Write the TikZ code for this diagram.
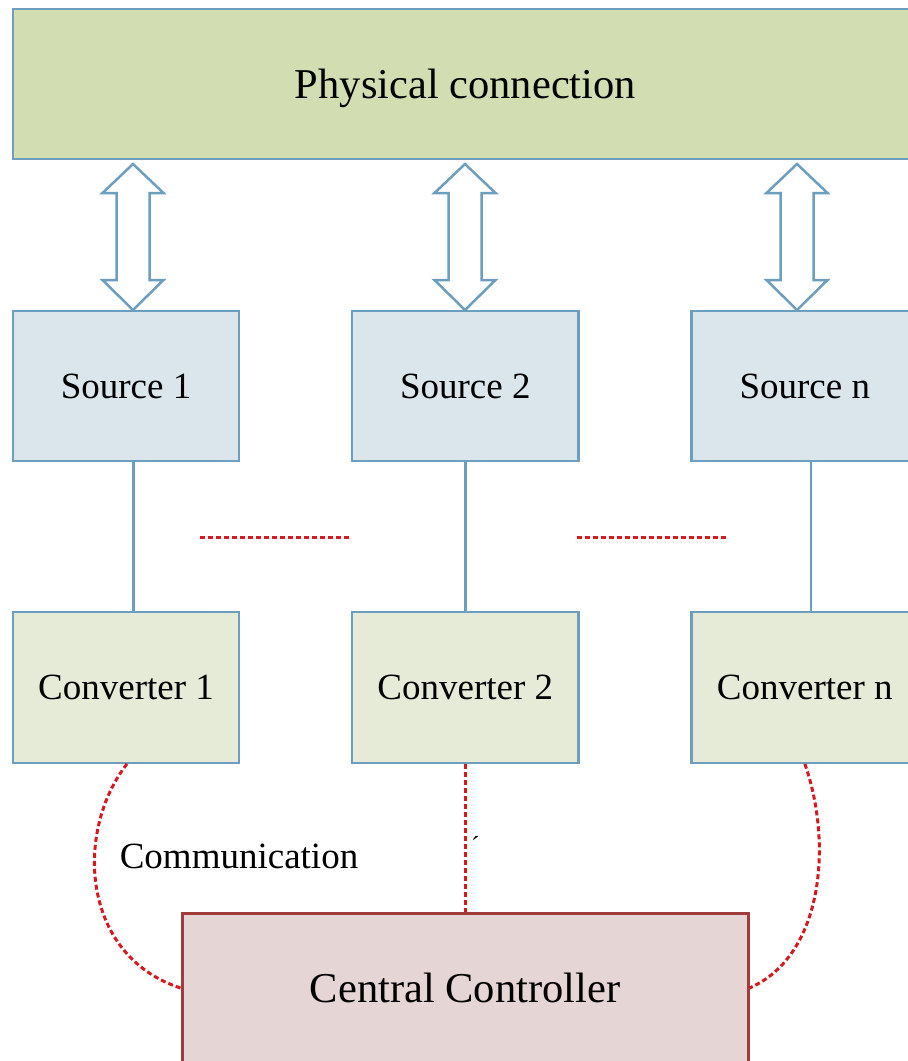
\documentclass[tikz,border=0pt]{standalone}
\usepackage{fontspec}
\setmainfont{Liberation Serif}
\definecolor{physfill}{HTML}{D2DEB2}
\definecolor{edgeblue}{HTML}{6C9EC0}
\definecolor{srcfill}{HTML}{DBE6EC}
\definecolor{convfill}{HTML}{E6EBD7}
\definecolor{ctlfill}{HTML}{E5D5D4}
\definecolor{ctledge}{HTML}{A03C3C}
\definecolor{commred}{HTML}{D7191F}
\tikzset{
  x=1pt, y=-1pt,
  bigtext/.style={font=\fontsize{42.5}{50}\selectfont, text height=28pt, text depth=0pt},
  midtext/.style={font=\fontsize{37}{44}\selectfont, text height=24.5pt, text depth=0pt},
  box/.style={draw=edgeblue, line width=2.3pt, inner sep=0pt},
  physbox/.style={box, bigtext, fill=physfill, minimum width=905pt, minimum height=150pt},
  srcbox/.style={box, midtext, fill=srcfill, minimum width=226.5pt, minimum height=150.5pt},
  convbox/.style={box, midtext, fill=convfill, minimum width=226.5pt, minimum height=150.5pt},
  ctlbox/.style={draw=ctledge, line width=3pt, fill=ctlfill, bigtext, inner sep=0pt,
    minimum width=566pt, minimum height=150pt},
  link/.style={draw=edgeblue, line width=2.4pt},
  comm/.style={draw=commred, line width=3pt, dash pattern=on 5pt off 3pt},
  dblarrow/.pic={
    \draw[edgeblue, line width=2.5pt, fill=white, line join=miter]
      (0,0) -- (30.5,29) -- (16.5,29) -- (16.5,116) -- (30.5,116) -- (0,146)
      -- (-30.5,116) -- (-16.5,116) -- (-16.5,29) -- (-30.5,29) -- cycle;
  }
}
\begin{document}
\begin{tikzpicture}
\clip (0,0) rectangle (908,1061);
\fill[white] (0,0) rectangle (908,1061);

% shared bus
\node[physbox] (phys) at (465.5,84) {Physical connection};

% sources and their converters
\node[srcbox] (s1) at (126,386) {Source 1};
\node[srcbox] (s2) at (465.3,386) {Source 2};
\node[srcbox] (s3) at (804.8,386) {Source n};
\node[convbox] (c1) at (126,687.5) {Converter 1};
\node[convbox] (c2) at (465.3,687.5) {Converter 2};
\node[convbox] (c3) at (804.8,687.5) {Converter n};

% controller
\node[ctlbox] (ctl) at (465,988) {Central Controller};

% column positions of the power links
\coordinate (k1) at (133.3,0);
\coordinate (k2) at (465.3,0);
\coordinate (k3) at (810.7,0);
\coordinate (kc1) at (127,0);

% two-way power exchange with the bus
\pic at (133,164) {dblarrow};
\pic at (465,164) {dblarrow};
\pic at (797,164) {dblarrow};

% source to converter
\draw[link] (s1.south -| k1) -- (c1.north -| k1);
\draw[link] (s2.south -| k2) -- (c2.north -| k2);
\draw[link] (s3.south -| k3) -- (c3.north -| k3);

% elided columns
\coordinate (d1a) at (200,537);
\coordinate (d1b) at (349,537);
\coordinate (d2a) at (577,537);
\coordinate (d2b) at (726,537);
\draw[comm] (d1a) -- (d1b);
\draw[comm] (d2a) -- (d2b);

% communication links
\draw[comm] (c1.south -| kc1) .. controls (75,830) and (80,955) .. (ctl.west);
\draw[comm] (c2.south) -- (ctl.north -| c2.south);
\draw[comm] (c3.south) .. controls (832,840) and (825,955) .. (ctl.east);

\node[font=\fontsize{37}{44}\selectfont, anchor=base, inner sep=0pt] (lbl) at (239,868) {Communication};
\node[font=\fontsize{26}{30}\selectfont, anchor=base west, inner sep=0pt] (tick) at (471,854) {´};
\end{tikzpicture}
\end{document}
